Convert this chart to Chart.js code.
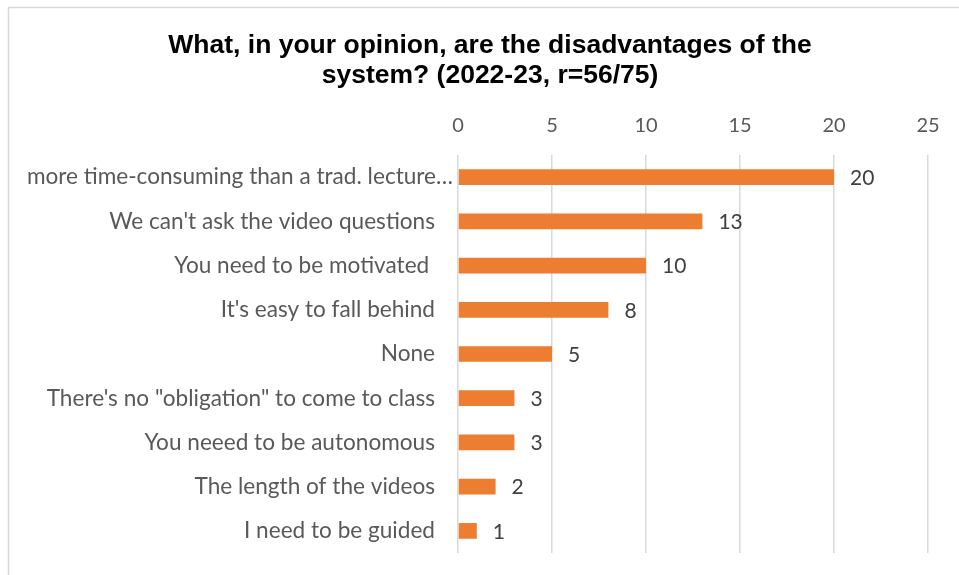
<!DOCTYPE html>
<html>
<head>
<meta charset="utf-8">
<script src="https://cdn.jsdelivr.net/npm/chart.js@4/dist/chart.umd.min.js"></script>
<style>
  html, body { margin: 0; padding: 0; background: #fff; }
  #wrap { position: relative; width: 959px; height: 575px; }
</style>
</head>
<body>
<div id="wrap"><canvas id="c" width="959" height="575"></canvas></div>
<script>
const titleLines = [
  'What, in your opinion, are the disadvantages of the',
  'system? (2022-23, r=56/75)'
];
const categories = [
  'more time-consuming than a trad. lecture\u2026',
  "We can't ask the video questions",
  'You need to be motivated ',
  "It's easy to fall behind",
  'None',
  'There\'s no "obligation" to come to class',
  'You neeed to be autonomous',
  'The length of the videos',
  'I need to be guided'
];
const counts = [20, 13, 10, 8, 5, 3, 3, 2, 1];
const xTicks = [0, 5, 10, 15, 20, 25];

const CATEGORY_FONT = '22.6px Lato';
const VALUE_FONT = '21px Lato';

// white background plus the light frame along the top and left edges
const framePlugin = {
  id: 'frame',
  beforeDraw(chart) {
    const ctx = chart.ctx;
    ctx.save();
    ctx.fillStyle = '#ffffff';
    ctx.fillRect(0, 0, chart.width, chart.height);
    ctx.strokeStyle = '#d9d9d9';
    ctx.lineWidth = 1.5;
    ctx.beginPath();
    ctx.moveTo(8.5, chart.height);
    ctx.lineTo(8.5, 7.5);
    ctx.lineTo(chart.width, 7.5);
    ctx.stroke();
    ctx.restore();
  }
};

// category names, right-aligned against the plot; truncated names sit closer
const categoryLabelPlugin = {
  id: 'categoryLabels',
  afterDraw(chart) {
    const ctx = chart.ctx;
    const y = chart.scales.y;
    const left = chart.chartArea.left;
    ctx.save();
    ctx.font = CATEGORY_FONT;
    ctx.fillStyle = '#595959';
    ctx.textAlign = 'right';
    ctx.textBaseline = 'middle';
    categories.forEach((name, i) => {
      const gap = name.endsWith('\u2026') ? 5 : 23;
      ctx.fillText(name, left - gap, y.getPixelForValue(i));
    });
    ctx.restore();
  }
};

// value printed just past the end of each bar
const valueLabelPlugin = {
  id: 'valueLabels',
  afterDatasetsDraw(chart) {
    const ctx = chart.ctx;
    const meta = chart.getDatasetMeta(0);
    ctx.save();
    ctx.font = VALUE_FONT;
    ctx.fillStyle = '#404040';
    ctx.textAlign = 'left';
    ctx.textBaseline = 'middle';
    meta.data.forEach((bar, i) => {
      ctx.fillText(String(counts[i]), bar.x + 16, bar.y + 1);
    });
    ctx.restore();
  }
};

new Chart(document.getElementById('c'), {
  type: 'bar',
  data: {
    labels: categories,
    datasets: [{
      data: counts,
      backgroundColor: '#ED7D31',
      borderWidth: 0,
      categoryPercentage: 1,
      barPercentage: 0.355
    }]
  },
  options: {
    indexAxis: 'y',
    responsive: false,
    animation: false,
    layout: { padding: { left: 52, right: 31, top: 0, bottom: 22 } },
    plugins: {
      legend: { display: false },
      tooltip: { enabled: false },
      title: {
        display: true,
        text: titleLines,
        color: '#000000',
        font: { family: 'Liberation Sans', size: 26.5, weight: 'bold', lineHeight: 30 / 26.5 },
        padding: { top: 31, bottom: 0 }
      }
    },
    scales: {
      x: {
        position: 'top',
        min: xTicks[0],
        max: xTicks[xTicks.length - 1],
        afterBuildTicks(scale) {
          scale.ticks = xTicks.map(v => ({ value: v }));
        },
        afterFit(scale) { scale.height = 64; },
        ticks: {
          color: '#595959',
          font: { family: 'Lato', size: 20, lineHeight: 1.08 },
          padding: 19
        },
        grid: { color: '#d9d9d9', lineWidth: 1.5, drawTicks: false },
        border: { display: false }
      },
      y: {
        type: 'category',
        offset: true,
        afterFit(scale) { scale.width = 406; },
        ticks: { display: false },
        grid: { display: false },
        border: { display: false }
      }
    }
  },
  plugins: [framePlugin, categoryLabelPlugin, valueLabelPlugin]
});
</script>
</body>
</html>
